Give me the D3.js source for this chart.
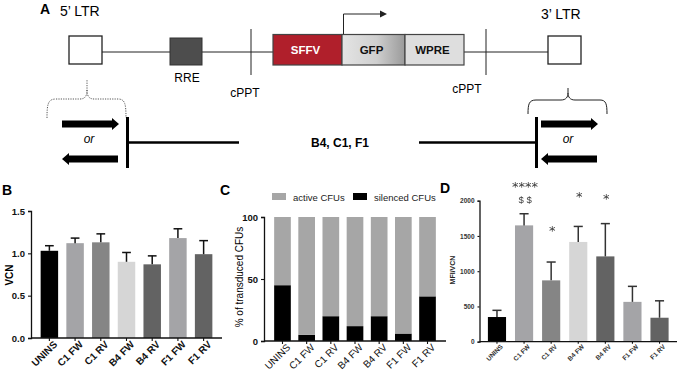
<!DOCTYPE html>
<html>
<head>
<meta charset="utf-8">
<script src="https://cdn.jsdelivr.net/npm/d3@7"></script>
<style>
  body { margin: 0; background: #fff; }
  svg { display: block; }
  text { font-family: "Liberation Sans", Arial, sans-serif; }
  .diag { font-family: Lato, "Open Sans", sans-serif; }
  .sig { filter: grayscale(100%); }
</style>
</head>
<body>
<div id="chart"></div>
<script>
// ---- data ----
const categories = ["UNINS", "C1 FW", "C1 RV", "B4 FW", "B4 RV", "F1 FW", "F1 RV"]
const vcnMean = [1.03, 1.12, 1.13, 0.90, 0.87, 1.18, 0.99]
const vcnErr  = [0.06, 0.06, 0.10, 0.11, 0.10, 0.11, 0.16]
const silencedPct = [45, 5, 20, 12, 20, 6, 36]
const mfiMean = [350, 1650, 870, 1415, 1210, 565, 340]
const mfiErr  = [95, 165, 260, 220, 465, 220, 240]
const mfiStars = ["", "****", "*", "*", "*", "", ""]
const mfiDollars = ["", "$ $", "", "", "", "", ""]
const vcnTicks = [0, 0.5, 1.0, 1.5]
const cfuTicks = [0, 50, 100]
const mfiTicks = [0, 500, 1000, 1500, 2000]
const legendLabels = ["active CFUs", "silenced CFUs"]

// bar fills per category
const barColours = ["#000000", "#a4a4a7", "#858585", "#d6d6d6", "#636363", "#a4a4a7", "#636363"]

const WIDTH = 680
const HEIGHT = 374

const svg = d3.select("#chart").append("svg")
    .attr("width", WIDTH)
    .attr("height", HEIGHT)

// ================= Panel A : vector diagram =================
const A = svg.append("g").attr("class", "diag")

A.append("text").attr("x", 40).attr("y", 14).style("font-family", "Liberation Sans")
    .style("font-weight", "bold").style("font-size", "14px").text("A")
A.append("text").attr("x", 60).attr("y", 16).style("font-size", "14px").text("5\u2019 LTR")
A.append("text").attr("x", 541).attr("y", 19).style("font-size", "14px").text("3\u2019 LTR")

// backbone
const backbone = [[102, 170], [202, 273], [464, 548]]
A.selectAll("line.bb").data(backbone).enter().append("line")
    .attr("x1", d => d[0]).attr("x2", d => d[1])
    .attr("y1", 52).attr("y2", 52)
    .attr("stroke", "#222").attr("stroke-width", 1)

// cPPT marks
const cppt = [{x: 251, lx: 245, ly: 97}, {x: 486, lx: 467, ly: 93}]
A.selectAll("line.cp").data(cppt).enter().append("line")
    .attr("x1", d => d.x).attr("x2", d => d.x).attr("y1", 29).attr("y2", 75)
    .attr("stroke", "#222").attr("stroke-width", 1)
A.selectAll("text.cp").data(cppt).enter().append("text")
    .attr("x", d => d.lx).attr("y", d => d.ly).attr("text-anchor", "middle")
    .style("font-size", "12px").text("cPPT")

// LTR boxes
A.selectAll("rect.ltr").data([69, 548]).enter().append("rect")
    .attr("x", d => d).attr("y", 36).attr("width", 33).attr("height", 28)
    .attr("fill", "#fff").attr("stroke", "#222").attr("stroke-width", 1.3)

// RRE
A.append("rect").attr("x", 170).attr("y", 38).attr("width", 32).attr("height", 27)
    .attr("fill", "#4d4d4d").attr("stroke", "#333").attr("stroke-width", 1)
A.append("text").attr("x", 187).attr("y", 82).attr("text-anchor", "middle")
    .style("font-size", "12px").text("RRE")

// gradient for GFP
const defs = svg.append("defs")
const grad = defs.append("linearGradient").attr("id", "gfpGrad")
grad.append("stop").attr("offset", "0%").attr("stop-color", "#e4e4e4")
grad.append("stop").attr("offset", "55%").attr("stop-color", "#cfcfcf")
grad.append("stop").attr("offset", "100%").attr("stop-color", "#9a9a9a")

const cassette = [
    {name: "SFFV", x0: 273, x1: 342, fill: "#b01f2b", col: "#fff"},
    {name: "GFP",  x0: 342, x1: 405, fill: "url(#gfpGrad)", col: "#111"},
    {name: "WPRE", x0: 405, x1: 464, fill: "#dedede", col: "#111"}
]
A.selectAll("rect.cas").data(cassette).enter().append("rect")
    .attr("x", d => d.x0).attr("y", 34.5).attr("width", d => d.x1 - d.x0).attr("height", 30.5)
    .attr("fill", d => d.fill).attr("stroke", "#444").attr("stroke-width", 1.2)
A.selectAll("text.cas").data(cassette).enter().append("text")
    .attr("x", d => (d.x0 + d.x1) / 2 - 2).attr("y", 54).attr("text-anchor", "middle")
    .style("font-size", "11.5px").style("font-weight", "bold").attr("fill", d => d.col)
    .text(d => d.name)

// promoter arrow
A.append("path").attr("d", "M343.5,34 V14 H380").attr("fill", "none")
    .attr("stroke", "#222").attr("stroke-width", 1)
A.append("path").attr("d", "M380,10.5 L387,14 L380,17.5 Z").attr("fill", "#222")

// braces
A.append("path")
    .attr("d", "M47,118 C47,104 48,99 56,99 L80,99 C85,99 87,96 87,90 L87,80 M87,90 C87,96 89,99 94,99 L118,99 C125,99 126,104 126,118")
    .attr("fill", "none").attr("stroke", "#555").attr("stroke-width", 1).attr("stroke-dasharray", "1.2,1.2")
A.append("path")
    .attr("d", "M528,114 C528,104 529,100 536,100 L561,100 C566,100 568,97 568,93 L568,88 M568,93 C568,97 570,100 575,100 L600,100 C606,100 607,104 607,114")
    .attr("fill", "none").attr("stroke", "#222").attr("stroke-width", 1)

// block arrows (dir: +1 right, -1 left)
function blockArrow(xa, xb, y, dir) {
    const tip = dir > 0 ? xb : xa
    const tail = dir > 0 ? xa : xb
    const neck = tip - dir * 7
    return `M${tail},${y - 3.5} L${neck},${y - 3.5} L${neck},${y - 6} L${tip},${y} L${neck},${y + 6} L${neck},${y + 3.5} L${tail},${y + 3.5} Z`
}
const arrows = [
    {a: 62, b: 119, y: 124, dir: 1}, {a: 62, b: 118, y: 159, dir: -1},
    {a: 541, b: 598, y: 124, dir: 1}, {a: 541, b: 597, y: 159, dir: -1}
]
A.selectAll("path.arr").data(arrows).enter().append("path")
    .attr("d", d => blockArrow(d.a, d.b, d.y, d.dir)).attr("fill", "#000")
A.selectAll("text.or").data([89, 568]).enter().append("text")
    .attr("x", d => d).attr("y", 143).attr("text-anchor", "middle")
    .style("font-size", "12px").style("font-style", "italic").text("or")

// insert junctions and flanking genome
A.selectAll("line.jv").data([127.5, 536.5]).enter().append("line")
    .attr("x1", d => d).attr("x2", d => d).attr("y1", 117).attr("y2", 168)
    .attr("stroke", "#000").attr("stroke-width", 3)
A.selectAll("line.gl").data([[128, 239], [419, 536]]).enter().append("line")
    .attr("x1", d => d[0]).attr("x2", d => d[1]).attr("y1", 142.5).attr("y2", 142.5)
    .attr("stroke", "#000").attr("stroke-width", 2.5)
A.append("text").attr("x", 340).attr("y", 147).attr("text-anchor", "middle")
    .style("font-size", "12px").style("font-weight", "bold").text("B4, C1, F1")

// ================= helper for bar panels =================
function drawAxes(g, x, y, ticks, fmt, opts) {
    const yAxis = g.append("g")
        .attr("class", "yaxis")
        .attr("transform", `translate(${opts.left},0)`)
        .call(d3.axisLeft(y).tickValues(ticks).tickFormat(fmt).tickSizeOuter(0).tickSize(opts.tick))
    yAxis.selectAll("text").style("font-size", opts.tickFont + "px").style("font-weight", opts.yWeight || opts.weight)
        .attr("fill", "#111")
    const xAxis = g.append("g")
        .attr("transform", `translate(0,${opts.bottom})`)
        .call(d3.axisBottom(x).tickSizeOuter(0).tickSize(opts.tick))
    xAxis.selectAll("text")
        .style("font-size", opts.xFont + "px").style("font-weight", opts.weight)
        .attr("fill", "#111")
        .attr("text-anchor", "end")
        .attr("dx", "0.1em").attr("dy", "0.5em")
        .attr("transform", "rotate(-45)")
    g.selectAll(".domain").attr("stroke", "#111").attr("stroke-width", 1.3)
    g.selectAll(".tick line").attr("stroke", "#111").attr("stroke-width", 1.1)
    // extend x domain line to the y axis
    xAxis.select(".domain").attr("d", `M${opts.left},0H${x.range()[1]}`)
}

function errorBars(g, x, y, means, errs, colour) {
    const cap = x.bandwidth() * 0.5
    const eb = g.selectAll("g.err").data(categories).enter().append("g")
    eb.append("line")
        .attr("x1", (d, i) => x(d) + x.bandwidth() / 2).attr("x2", (d, i) => x(d) + x.bandwidth() / 2)
        .attr("y1", (d, i) => y(means[i])).attr("y2", (d, i) => y(means[i] + errs[i]))
        .attr("stroke", colour).attr("stroke-width", 1.5)
    eb.append("line")
        .attr("x1", (d, i) => x(d) + x.bandwidth() / 2 - cap / 2).attr("x2", (d, i) => x(d) + x.bandwidth() / 2 + cap / 2)
        .attr("y1", (d, i) => y(means[i] + errs[i])).attr("y2", (d, i) => y(means[i] + errs[i]))
        .attr("stroke", colour).attr("stroke-width", 1.5)
}

// ================= Panel B : VCN =================
const B = svg.append("g")
B.append("text").attr("x", 2).attr("y", 195).style("font-weight", "bold").style("font-size", "14px").text("B")
const xB = d3.scaleBand().domain(categories).range([31, 222]).paddingInner(0.32).paddingOuter(0.375)
const yB = d3.scaleLinear().domain([0, 1.5]).range([338, 211])
B.selectAll("rect").data(categories).enter().append("rect")
    .attr("x", d => xB(d)).attr("width", xB.bandwidth())
    .attr("y", (d, i) => yB(vcnMean[i])).attr("height", (d, i) => yB(0) - yB(vcnMean[i]))
    .attr("fill", (d, i) => barColours[i])
errorBars(B, xB, yB, vcnMean, vcnErr, "#111")
drawAxes(B, xB, yB, vcnTicks, d3.format(".1f"),
    {left: 31, bottom: 338, tick: 3, tickFont: 9.5, xFont: 10, weight: "bold"})
B.append("text").attr("transform", "translate(13,275) rotate(-90)").attr("text-anchor", "middle")
    .style("font-size", "10px").style("font-weight", "bold").text("VCN")

// ================= Panel C : CFUs =================
const C = svg.append("g")
C.append("text").attr("x", 220).attr("y", 195).style("font-weight", "bold").style("font-size", "14px").text("C")
const xC = d3.scaleBand().domain(categories).range([264, 446]).paddingInner(0.31).paddingOuter(0.42)
const yC = d3.scaleLinear().domain([0, 100]).range([341, 217])
const stackData = categories.map((c, i) => ({cat: c, silenced: silencedPct[i], active: 100 - silencedPct[i]}))
const stack = d3.stack().keys(["silenced", "active"])(stackData)
const stackColour = d3.scaleOrdinal().domain(["silenced", "active"]).range(["#000000", "#a6a6a6"])
C.selectAll("g.layer").data(stack).enter().append("g")
    .attr("fill", d => stackColour(d.key))
    .selectAll("rect").data(d => d).enter().append("rect")
    .attr("x", d => xC(d.data.cat)).attr("width", xC.bandwidth())
    .attr("y", d => yC(d[1])).attr("height", d => yC(d[0]) - yC(d[1]))
drawAxes(C, xC, yC, cfuTicks, d3.format("d"),
    {left: 264, bottom: 341, tick: 3, tickFont: 9.5, xFont: 10, weight: "normal", yWeight: "bold"})
C.append("text").attr("transform", "translate(243,277) rotate(-90)").attr("text-anchor", "middle")
    .style("font-size", "10px").text("% of transduced CFUs")

// legend
const legendKeys = ["active", "silenced"]
const legend = C.selectAll("g.leg").data(legendKeys).enter().append("g")
    .attr("transform", (d, i) => `translate(${[272, 353][i]},193)`)
legend.append("rect").attr("width", 14).attr("height", 7).attr("fill", d => stackColour(d))
legend.append("text").attr("x", 21).attr("y", 7.5).style("font-size", "9.5px").attr("fill", "#222")
    .text((d, i) => legendLabels[i])

// ================= Panel D : MFI/VCN =================
const D = svg.append("g")
D.append("text").attr("x", 440).attr("y", 193).style("font-weight", "bold").style("font-size", "14px").text("D")
const xD = d3.scaleBand().domain(categories).range([479.5, 677]).paddingInner(0.33).paddingOuter(0.31)
const yD = d3.scaleLinear().domain([0, 2000]).range([341.7, 200.7])
D.selectAll("rect").data(categories).enter().append("rect")
    .attr("x", d => xD(d)).attr("width", xD.bandwidth())
    .attr("y", (d, i) => yD(mfiMean[i])).attr("height", (d, i) => yD(0) - yD(mfiMean[i]))
    .attr("fill", (d, i) => barColours[i])
errorBars(D, xD, yD, mfiMean, mfiErr, "#333")
drawAxes(D, xD, yD, mfiTicks, d3.format("d"),
    {left: 479.5, bottom: 341.7, tick: 2, tickFont: 6.5, xFont: 6.5, weight: "bold"})
D.selectAll(".tick text").attr("fill", "#333")
D.append("text").attr("transform", "translate(455,270) rotate(-90)").attr("text-anchor", "middle")
    .style("font-size", "7px").style("font-weight", "bold").attr("fill", "#222").text("MFI/VCN")

// significance marks: stars above each error bar, $ marks below the stars
const starOffset = [0, 29.8, 34.3, 33.4, 27.9, 0, 0]
const sig = D.append("g").attr("class", "sig")
sig.selectAll("text.star").data(categories).enter().append("text")
    .attr("text-anchor", "middle")
    .attr("fill", "#3a3a3a")
    .attr("x", d => xD(d) + xD.bandwidth() / 2 + 1)
    .attr("y", (d, i) => yD(mfiMean[i] + mfiErr[i]) - starOffset[i] + 7.5)
    .style("font-family", "DejaVu Sans").style("font-size", "13px")
    .text((d, i) => mfiStars[i])
sig.selectAll("text.dollar").data(categories).enter().append("text")
    .attr("text-anchor", "middle")
    .attr("fill", "#3a3a3a")
    .attr("x", d => xD(d) + xD.bandwidth() / 2 + 1)
    .attr("y", 203.4)
    .style("font-size", "9.5px")
    .text((d, i) => mfiDollars[i])
</script>
</body>
</html>
